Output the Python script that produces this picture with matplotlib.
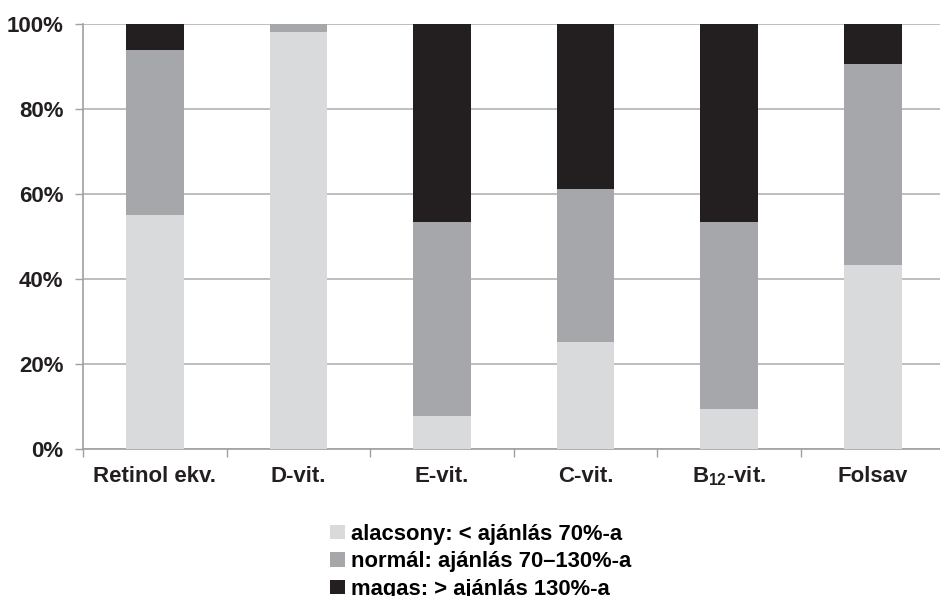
import matplotlib
matplotlib.use("Agg")
import matplotlib.pyplot as plt
from matplotlib.patches import Patch
import numpy as np

categories = ["Retinol ekv.", "D-vit.", "E-vit.", "C-vit.", "B$_{12}$-vit.", "Folsav"]
low = [55.1, 98.1, 7.8, 25.2, 9.5, 43.4]
normal = [38.8, 1.9, 45.6, 36.0, 43.9, 47.2]
high = [6.1, 0.0, 46.6, 38.8, 46.6, 9.4]
series_labels = ["alacsony: < ajánlás 70%-a", "normál: ajánlás 70–130%-a", "magas: > ajánlás 130%-a"]
colors = ["#d9dadc", "#a6a7aa", "#231f20"]
yticks = [0, 20, 40, 60, 80, 100]
ytick_labels = ["0%", "20%", "40%", "60%", "80%", "100%"]

plt.rcParams['font.family'] = ['Liberation Sans', 'DejaVu Sans']
plt.rcParams['font.weight'] = 'bold'
plt.rcParams['mathtext.fontset'] = 'custom'
plt.rcParams['mathtext.rm'] = 'Liberation Sans:bold'
plt.rcParams['mathtext.it'] = 'Liberation Sans:bold'

fig = plt.figure(figsize=(9.4, 5.96), dpi=100)
ax = fig.add_axes([0.0883, 0.2461, 0.9166, 0.7141])

x = np.arange(len(categories))
w = 0.4
low_a = np.array(low); norm_a = np.array(normal); high_a = np.array(high)
ax.bar(x, low_a, w, color=colors[0], zorder=3)
ax.bar(x, norm_a, w, bottom=low_a, color=colors[1], zorder=3)
ax.bar(x, high_a, w, bottom=low_a + norm_a, color=colors[2], zorder=3)

ax.set_xlim(-0.5, len(categories) - 0.5)
ax.set_ylim(0, 100)
ax.set_yticks(yticks)
ax.set_yticklabels(ytick_labels, fontsize=16, fontweight='bold', color='#231f20')
ax.set_xticks(x)
ax.set_xticklabels(categories, fontsize=16, fontweight='bold', color='#231f20')
for lab in ax.get_xticklabels():
    lab.set_va('baseline')
ax.set_xticks(np.arange(-0.5, len(categories) + 0.5, 1), minor=True)
ax.tick_params(axis='x', which='major', length=0, pad=23.5)
ax.tick_params(axis='x', which='minor', length=6, color='#a0a0a0', width=1)
ax.tick_params(axis='y', length=6, color='#a0a0a0', width=1, pad=8)

ax.yaxis.grid(True, color='#b3b3b3', linewidth=1.2, zorder=0)
ax.set_axisbelow(True)
for s in ['top', 'right']:
    ax.spines[s].set_visible(False)
for s in ['left', 'bottom']:
    ax.spines[s].set_color('#a0a0a0')
    ax.spines[s].set_linewidth(1.2)

handles = [Patch(facecolor=c, edgecolor='none') for c in colors]
fig.legend(handles, series_labels, loc='upper left', bbox_to_anchor=(0.3514, 0.1215),
           frameon=False, fontsize=15.8, handlelength=0.65, handleheight=0.65,
           handletextpad=0.3, labelspacing=0.3, borderpad=0, borderaxespad=0)

fig.savefig("out.png", dpi=100)
